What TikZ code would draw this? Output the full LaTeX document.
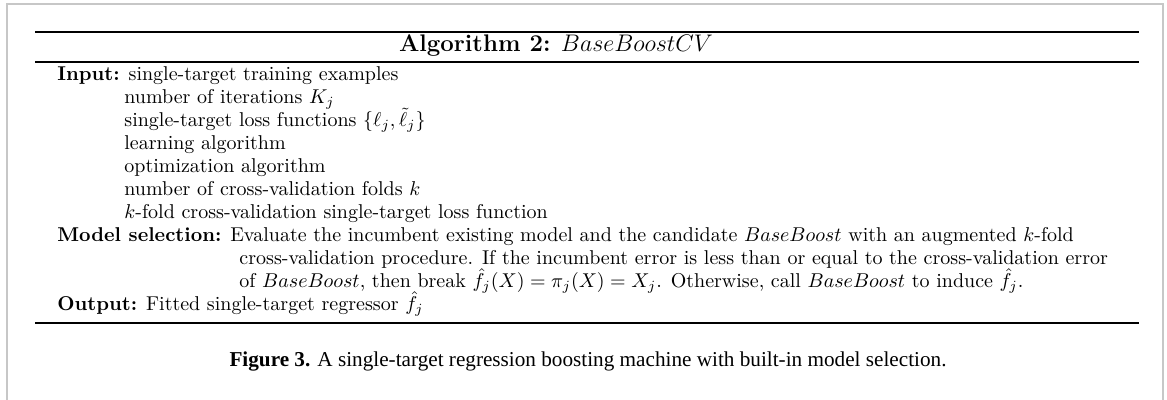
\documentclass[tikz,border=0pt]{standalone}
\usepackage{fontspec}
\usepackage{amsmath}
\newfontfamily\capfont{Liberation Serif}
\begin{document}
\begin{tikzpicture}[x=0.5pt,y=-0.5pt,
  txt/.style={anchor=base west,inner sep=0pt,font=\fontsize{10}{12}\selectfont},
  algrule/.style={line width=0.9pt},
  frameline/.style={draw=black!22,line width=0.8pt}]
\useasboundingbox[fill=white] (0,0) rectangle (1167,400);
\draw[frameline] (7,400) -- (7,4) -- (1163,4) -- (1163,400);
\draw[algrule] (35,32) -- (1139,32);
\node[anchor=base,inner sep=0pt,font=\large] (title) at (556,52) {\textbf{Algorithm 2:} $BaseBoostCV$};
\draw[algrule] (35,62) -- (1139,62);
\node[txt] (in1) at (57,81) {\textbf{Input:} single-target training examples};
\node[txt] (in2) at (124,104) {number of iterations $K_j$};
\node[txt] (in3) at (124,127) {single-target loss functions $\{\ell_j,\tilde{\ell}_j\}$};
\node[txt] (in4) at (124,150) {learning algorithm};
\node[txt] (in5) at (124,173) {optimization algorithm};
\node[txt] (in6) at (124,196) {number of cross-validation folds $k$};
\node[txt] (in7) at (124,219) {$k$-fold cross-validation single-target loss function};
\node[txt] (ms1) at (57,242) {\textbf{Model selection:} Evaluate the incumbent existing model and the candidate $BaseBoost$ with an augmented $k$-fold};
\node[txt] (ms2) at (239,265) {cross-validation procedure. If the incumbent error is less than or equal to the cross-validation error};
\node[txt] (ms3) at (239,288) {of $BaseBoost$, then break $\hat{f}_j(X)=\pi_j(X)=X_j$. Otherwise, call $BaseBoost$ to induce $\hat{f}_j$.};
\node[txt] (out) at (57,311) {\textbf{Output:} Fitted single-target regressor $\hat{f}_j$};
\draw[algrule] (35,323) -- (1139,323);
\node[anchor=base,inner sep=0pt,font=\capfont\fontsize{10.6}{12}\selectfont] (cap) at (588,367) {\textbf{Figure 3.} A single-target regression boosting machine with built-in model selection.};
\end{tikzpicture}
\end{document}
